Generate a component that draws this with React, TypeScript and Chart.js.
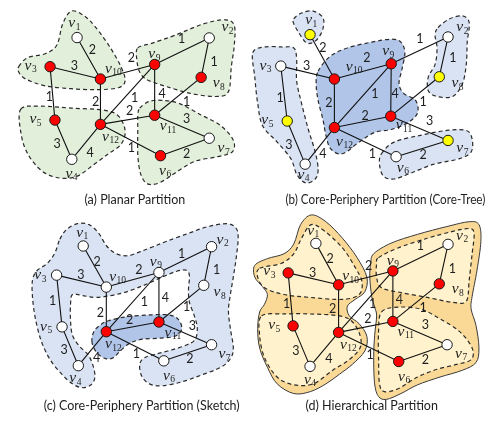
import React, { useEffect, useRef } from "react";
import { Chart, registerables } from "chart.js";
Chart.register(...registerables);

// ---------- data ----------
const SUBSCRIPTS = ["1", "2", "3", "4", "5", "6", "7", "8", "9", "10", "11", "12"];
const EDGES: [number, number][] = [
  [1, 10], [3, 10], [10, 9], [9, 2], [2, 8], [3, 5], [10, 12], [12, 9],
  [9, 11], [8, 11], [12, 11], [11, 7], [5, 4], [4, 12], [12, 6], [6, 7],
];
const WEIGHTS = [2, 3, 2, 1, 1, 1, 2, 1, 4, 1, 2, 3, 3, 4, 1, 2];

const TITLES = [
  "(a) Planar Partition",
  "(b) Core-Periphery Partition (Core-Tree)",
  "(c) Core-Periphery Partition (Sketch)",
  "(d) Hierarchical Partition",
];

// node positions (panel-local), v1..v12
const NODES_A = [[72.7, 32.3], [208.3, 32.7], [45, 62.3], [67.3, 157.7], [50, 117.3], [158.3, 154], [208.3, 136], [200, 73.3], [152.3, 60], [96.7, 75], [152.3, 112.3], [96.7, 121.7]];
const NODES_B = [[66.7, 29.3], [208.3, 31.7], [36.7, 61.7], [61.7, 162.7], [43.3, 118.3], [155, 155], [208.3, 138.3], [199.3, 72.7], [150, 59.3], [91.7, 75], [149.5, 113.3], [91.7, 125]];
const NODES_C = [[79, 35], [210.7, 35.7], [51.7, 65], [74, 158.3], [57.3, 118.3], [161.7, 153.3], [210.7, 136.7], [202.7, 75.5], [156.7, 62.3], [102.7, 77.3], [156.7, 113.3], [102.7, 123.3]];
const NODES_D = [[72.7, 32.3], [208.3, 33.3], [44.3, 62.7], [66.7, 159], [49.3, 117.3], [157.7, 154], [207.3, 136.7], [199.3, 74], [151.7, 60.7], [96, 75], [151.7, 112.7], [96, 124]];

// node label anchor positions (panel-local)
const LABELS_A = [[70, 18], [227, 22], [25, 62], [67, 173], [30, 117], [163, 170], [223, 147], [218, 80], [152, 50], [110, 65], [166, 124], [107, 135]];
const LABELS_B = [[68, 15], [223, 22], [21, 62], [60, 174], [23, 118], [162, 167], [223, 147], [218, 80], [147, 47], [112, 63], [163, 123], [102, 140]];
const LABELS_C = [[78, 22], [222, 29], [35, 65.5], [71, 172], [41, 118.5], [167, 169.3], [224, 147], [219, 83], [153.5, 51.7], [114.3, 67.3], [171, 125], [110, 136.7]];
const LABELS_D = [[70, 20], [222.7, 25], [25, 61.7], [66.7, 173.3], [30, 117.3], [163.3, 170], [221.7, 146.7], [218.3, 80], [151.7, 50.7], [108.3, 66.7], [165, 124], [106, 137.3]];

// edge-weight label positions (panel-local), in EDGES order
const WPOS_A = [[88.3, 45], [70, 61.7], [128.3, 53.3], [180, 33.3], [213.3, 57.3], [44.3, 93.3], [91.7, 98.3], [131.7, 94.3], [160, 90], [185, 98.3], [126.7, 108.3], [185, 115.7], [52.3, 141.7], [86, 150.7], [128.3, 146], [185, 151.7]];
const WPOS_B = [[80, 43.3], [63.3, 61.7], [125, 53.3], [179.3, 33.3], [213.3, 53.3], [36, 94.3], [86, 99.3], [133.3, 90.7], [154, 90], [182.7, 98.3], [123.3, 112.7], [189.3, 118.3], [45, 143.3], [80, 151.7], [130.7, 152.7], [182.7, 153.3]];
const WPOS_C = [[93.3, 51.3], [76.7, 65.3], [136, 59.7], [180, 42.7], [216, 60], [47.5, 92], [96.7, 104.3], [141.7, 92.7], [163.3, 88.3], [185, 98.3], [126.7, 111.5], [191, 117.3], [59.3, 141.7], [92.7, 150], [133.5, 146.5], [188.5, 151.7]];
const WPOS_D = [[87.3, 48.3], [69.3, 63.3], [126.7, 56], [180, 35], [212.7, 58.3], [42.7, 95], [90, 100], [131, 94.3], [158.3, 90.7], [182.7, 99.3], [126, 110], [185, 116.7], [52.3, 142.7], [86, 151.7], [128.3, 147.3], [185, 152.7]];

// node roles: r = red, y = yellow, w = white
const ROLE_A = ["w", "w", "r", "w", "r", "r", "w", "r", "r", "r", "r", "r"];
const ROLE_B = ["y", "w", "w", "w", "y", "w", "y", "y", "r", "r", "r", "r"];
const ROLE_C = ["w", "w", "w", "w", "w", "w", "w", "w", "w", "w", "r", "r"];
const ROLE_D = ["w", "w", "r", "w", "r", "r", "w", "r", "r", "r", "r", "r"];

// region outlines (panel-local)
const A_TL = [[13, 62], [22, 53], [40, 49], [52, 40], [58, 18], [67, 5], [80, 10], [92, 22], [107, 43], [118, 63], [122, 77], [115, 84], [93, 86], [67, 85], [40, 82], [20, 75], [13, 68]];
const A_TR = [[135, 43], [150, 38], [173, 30], [203, 18], [225, 14], [234, 20], [234, 40], [231, 62], [228, 88], [215, 93], [190, 90], [165, 83], [145, 76], [137, 68], [134, 55]];
const A_BL = [[15, 106], [35, 103], [67, 105], [100, 107], [115, 113], [122, 128], [118, 142], [105, 152], [90, 163], [73, 175], [55, 177], [37, 170], [22, 152], [15, 130]];
const A_BR = [[137, 105], [147, 98], [160, 97], [177, 100], [200, 112], [220, 123], [233, 138], [232, 150], [217, 155], [193, 160], [173, 172], [157, 182], [145, 183], [138, 173], [135, 153], [135, 127], [135, 113]];

const B_CORE = [[75, 67], [87, 52], [105, 43], [130, 37], [150, 34], [160, 37], [164, 48], [161, 65], [158, 80], [163, 90], [175, 97], [177, 110], [167, 120], [150, 127], [133, 130], [117, 140], [100, 152], [88, 147], [83, 133], [80, 117], [75, 97], [73, 80]];
const B_V1 = [[50, 13], [58, 7], [70, 5], [80, 12], [80, 23], [75, 33], [68, 38], [62, 37], [55, 27], [50, 18]];
const B_LEFT = [[8, 48], [20, 42], [37, 42], [50, 43], [53, 55], [53, 77], [58, 100], [65, 127], [72, 150], [75, 168], [72, 178], [62, 182], [53, 173], [47, 157], [33, 140], [18, 123], [13, 100], [10, 73]];
const B_RIGHT = [[198, 22], [210, 13], [223, 10], [230, 17], [228, 37], [227, 60], [223, 80], [213, 93], [197, 93], [188, 87], [188, 73], [195, 60], [197, 43], [195, 30]];
const B_BOTTOM = [[140, 152], [153, 140], [180, 133], [207, 128], [227, 128], [233, 137], [232, 150], [220, 157], [193, 163], [170, 172], [153, 178], [142, 175], [138, 163]];

const C_OUTER = [[55, 28], [62, 18], [73, 12], [85, 13], [95, 22], [103, 35], [113, 43], [125, 45], [137, 41], [150, 36], [165, 30], [187, 22], [207, 15], [227, 12], [236, 17], [238, 27], [236, 47], [233, 67], [230, 85], [228, 102], [230, 120], [233, 140], [230, 151], [220, 160], [200, 168], [180, 175], [160, 179], [147, 177], [139, 169], [137, 157], [142, 150], [155, 146], [170, 142], [185, 137], [194, 131], [196, 119], [193, 107], [188, 93], [187, 80], [188, 66], [185, 60], [175, 61], [160, 67], [140, 76], [117, 84], [93, 88], [78, 86], [68, 85], [66, 95], [66, 112], [68, 127], [75, 138], [84, 147], [89, 158], [91, 170], [87, 178], [78, 181], [68, 177], [57, 167], [45, 152], [36, 133], [30, 110], [27, 88], [27, 70], [32, 60], [42, 53], [50, 42]];
const C_CORE = [[88, 134], [90, 123], [97, 116], [105, 112], [123, 108], [147, 106], [167, 106], [177, 111], [180, 121], [173, 128], [157, 130], [140, 131], [127, 135], [117, 143], [110, 150], [102, 151], [93, 145]];

const D_LEFT_OUT = [[68, 3], [83, 10], [100, 27], [115, 47], [125, 67], [123, 82], [113, 90], [105, 97], [107, 107], [117, 115], [125, 128], [123, 143], [110, 157], [97, 167], [83, 177], [67, 185], [50, 187], [33, 177], [23, 160], [15, 140], [13, 120], [15, 103], [20, 95], [23, 85], [18, 77], [10, 67], [10, 55], [23, 48], [40, 43], [50, 33], [57, 13]];
const D_LEFT_TOP = [[15, 58], [37, 53], [50, 43], [58, 27], [68, 13], [82, 20], [100, 37], [113, 57], [120, 72], [117, 85], [100, 90], [67, 88], [40, 85], [20, 78], [13, 67]];
const D_LEFT_BOT = [[17, 107], [40, 105], [67, 105], [97, 107], [110, 113], [118, 127], [118, 140], [107, 152], [90, 163], [70, 177], [50, 178], [33, 170], [20, 150], [15, 127]];
const D_RIGHT_OUT = [[132, 43], [150, 32], [177, 23], [207, 15], [230, 10], [240, 13], [242, 30], [238, 60], [233, 87], [232, 100], [237, 117], [240, 140], [237, 155], [223, 163], [200, 170], [177, 178], [160, 187], [145, 193], [137, 190], [133, 177], [132, 150], [133, 127], [135, 107], [133, 98], [130, 87], [128, 67], [129, 53]];
const D_RIGHT_TOP = [[137, 47], [157, 37], [187, 27], [213, 20], [230, 17], [235, 22], [233, 43], [230, 70], [227, 92], [213, 93], [187, 88], [160, 83], [140, 78], [135, 67], [135, 53]];
const D_RIGHT_BOT = [[140, 103], [157, 98], [180, 100], [200, 110], [220, 123], [233, 140], [232, 152], [217, 157], [197, 162], [177, 170], [157, 182], [143, 185], [138, 177], [137, 150], [137, 123]];

// ---------- styles / layout ----------
const W = 491;
const H = 425;
const ROLE_COLORS: Record<string, string> = { r: "#ff0000", y: "#ffff00", w: "#ffffff" };
const REGION_STYLES: Record<string, { fill: string; stroke: string | null; dash: number[]; width: number }> = {
  green: { fill: "#e2efda", stroke: "#2a2a2a", dash: [4, 3], width: 1.2 },
  light: { fill: "#dae3f3", stroke: "#2a2a2a", dash: [4, 3], width: 1.2 },
  core: { fill: "#b1c5e8", stroke: "#2a2a2a", dash: [4, 3], width: 1.2 },
  outer: { fill: "#f9d995", stroke: "#3a3a3a", dash: [], width: 1 },
  inner: { fill: "#fff2cc", stroke: "#2a2a2a", dash: [4, 3], width: 1.2 },
};

const PANELS = [
  { ox: 0, oy: 0, nodes: NODES_A, labels: LABELS_A, wpos: WPOS_A, roles: ROLE_A, title: [132, 200],
    regions: [[A_TL, "green"], [A_TR, "green"], [A_BL, "green"], [A_BR, "green"]] },
  { ox: 245, oy: 0, nodes: NODES_B, labels: LABELS_B, wpos: WPOS_B, roles: ROLE_B, title: [144, 200],
    regions: [[B_CORE, "core"], [B_V1, "light"], [B_LEFT, "light"], [B_RIGHT, "light"], [B_BOTTOM, "light"]] },
  { ox: 0, oy: 212, nodes: NODES_C, labels: LABELS_C, wpos: WPOS_C, roles: ROLE_C, title: [139, 200],
    regions: [[C_OUTER, "light"], [C_CORE, "core"]] },
  { ox: 245, oy: 212, nodes: NODES_D, labels: LABELS_D, wpos: WPOS_D, roles: ROLE_D, title: [130, 200],
    regions: [[D_LEFT_OUT, "outer"], [D_RIGHT_OUT, "outer"], [D_LEFT_TOP, "inner"], [D_LEFT_BOT, "inner"], [D_RIGHT_TOP, "inner"], [D_RIGHT_BOT, "inner"]] },
];

function smoothClosed(ctx: CanvasRenderingContext2D, pts: { x: number; y: number }[]) {
  const n = pts.length;
  ctx.moveTo(pts[0].x, pts[0].y);
  const t = 1 / 6;
  for (let i = 0; i < n; i++) {
    const p0 = pts[(i - 1 + n) % n];
    const p1 = pts[i];
    const p2 = pts[(i + 1) % n];
    const p3 = pts[(i + 2) % n];
    ctx.bezierCurveTo(
      p1.x + (p2.x - p0.x) * t, p1.y + (p2.y - p0.y) * t,
      p2.x - (p3.x - p1.x) * t, p2.y - (p3.y - p1.y) * t,
      p2.x, p2.y
    );
  }
  ctx.closePath();
}

const decorPlugin = {
  id: "graphDecor",
  beforeDatasetsDraw(chart: any) {
    const ctx: CanvasRenderingContext2D = chart.ctx;
    const xs = chart.scales.x;
    const ys = chart.scales.y;
    for (const p of PANELS) {
      for (const [shape, kind] of p.regions as any) {
        const st = REGION_STYLES[kind];
        const pts = (shape as number[][]).map(([x, y]) => ({ x: xs.getPixelForValue(x + p.ox), y: ys.getPixelForValue(y + p.oy) }));
        ctx.save();
        ctx.beginPath();
        smoothClosed(ctx, pts);
        ctx.fillStyle = st.fill;
        ctx.fill();
        if (st.stroke) {
          ctx.strokeStyle = st.stroke;
          ctx.lineWidth = st.width;
          ctx.setLineDash(st.dash);
          ctx.stroke();
        }
        ctx.restore();
      }
    }
  },
  afterDatasetsDraw(chart: any) {
    const ctx: CanvasRenderingContext2D = chart.ctx;
    const xs = chart.scales.x;
    const ys = chart.scales.y;
    ctx.save();
    PANELS.forEach((p, pi) => {
      // edge weights
      ctx.font = '12.5px Lato';
      ctx.fillStyle = "#1e1e1e";
      ctx.textAlign = "center";
      ctx.textBaseline = "middle";
      p.wpos.forEach(([x, y], i) => {
        ctx.fillText(String(WEIGHTS[i]), xs.getPixelForValue(x + p.ox), ys.getPixelForValue(y + p.oy));
      });
      // node labels
      p.labels.forEach(([x, y], i) => {
        const cx = xs.getPixelForValue(x + p.ox);
        const cy = ys.getPixelForValue(y + p.oy);
        const vFont = 'italic 15.5px "Liberation Serif"';
        const sFont = '9.5px "Liberation Serif"';
        ctx.font = vFont;
        const wv = ctx.measureText("v").width;
        ctx.font = sFont;
        const ws = ctx.measureText(SUBSCRIPTS[i]).width;
        const left = cx - (wv + ws + 0.5) / 2;
        ctx.textAlign = "left";
        ctx.textBaseline = "alphabetic";
        ctx.fillStyle = "#1e1e1e";
        ctx.font = vFont;
        ctx.fillText("v", left, cy + 3.5);
        ctx.font = sFont;
        ctx.fillText(SUBSCRIPTS[i], left + wv + 0.5, cy + 6);
      });
      // title
      ctx.font = '12.5px Lato';
      ctx.fillStyle = "#1e1e1e";
      ctx.textAlign = "center";
      ctx.textBaseline = "middle";
      ctx.fillText(TITLES[pi], xs.getPixelForValue(p.title[0] + p.ox), ys.getPixelForValue(p.title[1] + p.oy), 200);
    });
    ctx.restore();
  },
};

export default function App() {
  const ref = useRef<HTMLCanvasElement | null>(null);
  useEffect(() => {
    document.body.style.margin = "0";
    const datasets: any[] = [];
    PANELS.forEach((p) => {
      const pts = p.nodes.map(([x, y]) => ({ x: x + p.ox, y: y + p.oy }));
      datasets.push({
        type: "scatter",
        data: pts,
        pointRadius: 5.2,
        pointHoverRadius: 5.2,
        pointBackgroundColor: p.roles.map((r) => ROLE_COLORS[r]),
        pointBorderColor: "#1a1a1a",
        pointBorderWidth: 1,
        order: 1,
        clip: false,
      });
      const edgeData: any[] = [];
      EDGES.forEach(([a, b]) => {
        edgeData.push(pts[a - 1], pts[b - 1], { x: pts[b - 1].x, y: null });
      });
      datasets.push({
        type: "scatter",
        data: edgeData,
        showLine: true,
        spanGaps: false,
        pointRadius: 0,
        pointHoverRadius: 0,
        borderColor: "#111",
        borderWidth: 1.1,
        order: 2,
        clip: false,
      });
    });
    const chart = new Chart(ref.current as HTMLCanvasElement, {
      type: "scatter",
      data: { datasets },
      options: {
        animation: false,
        responsive: false,
        maintainAspectRatio: false,
        events: [],
        layout: { padding: 0 },
        scales: {
          x: { type: "linear", min: 0, max: W, display: false },
          y: { type: "linear", min: 0, max: H, reverse: true, display: false },
        },
        plugins: { legend: { display: false }, tooltip: { enabled: false } },
      },
      plugins: [decorPlugin],
    } as any);
    return () => chart.destroy();
  }, []);
  return (
    <div style={{ width: W, height: H, background: "#fff" }}>
      <canvas ref={ref} width={W} height={H} style={{ display: "block" }} />
    </div>
  );
}
